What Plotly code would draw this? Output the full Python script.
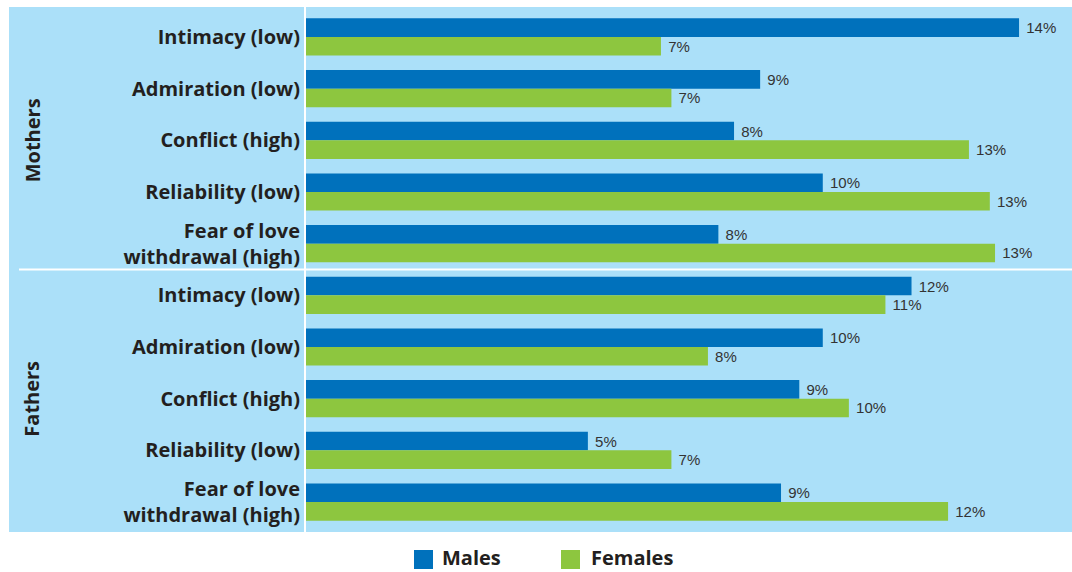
import plotly.graph_objects as go

# ---------------- data ----------------
groups = ["Mothers", "Fathers"]
categories = [
    "Intimacy (low)",
    "Admiration (low)",
    "Conflict (high)",
    "Reliability (low)",
    "Fear of love<br>withdrawal (high)",
]
series_names = ["Males", "Females"]

males_mothers = [13.66, 8.7, 8.2, 9.9, 7.9]
females_mothers = [6.8, 7.0, 12.7, 13.1, 13.2]
males_fathers = [11.6, 9.9, 9.45, 5.4, 9.1]
females_fathers = [11.1, 7.7, 10.4, 7.0, 12.3]

# ---------------- style ----------------
BG = "#abe0f9"
C_MALE = "#0071bc"
C_FEMALE = "#8dc63f"
TXT = "#231f20"
W, H = 1072, 572
L, R, T, B = 306, 0, 7, 40
PW, PH = W - L - R, H - T - B


def px_x(px):
    return (px - L) / PW


def px_y(py):
    return (H - B - py) / PH


males = males_mothers + males_fathers
females = females_mothers + females_fathers
n_cat = len(categories)
ypos = list(range(len(groups) * n_cat))
ticktext = categories * len(groups)


def labels(vals):
    return ["\u00a0" + f"{v:.0f}%" for v in vals]


fig = go.Figure()
for name, vals, col in [(series_names[0], males, C_MALE), (series_names[1], females, C_FEMALE)]:
    fig.add_trace(go.Bar(
        y=ypos, x=vals, name=name, orientation="h",
        marker=dict(color=col, line=dict(width=0)),
        text=labels(vals), textposition="outside",
        textfont=dict(family="Liberation Sans", size=15, color="#333333"),
        cliponaxis=False, showlegend=False,
    ))

shapes = [
    # full panel background
    dict(type="rect", xref="paper", yref="paper", x0=px_x(9), x1=1, y0=0, y1=1,
         fillcolor=BG, line=dict(width=0), layer="below"),
    # group separator
    dict(type="line", xref="paper", yref="y", x0=px_x(19), x1=1, y0=n_cat - 0.5, y1=n_cat - 0.5,
         line=dict(color="white", width=2)),
]

annotations = []
for gi, g in enumerate(groups):
    annotations.append(dict(
        text=g, xref="paper", yref="y", x=px_x(32), y=gi * n_cat + (n_cat - 1) / 2,
        xanchor="center", yanchor="middle", textangle=-90, showarrow=False,
        font=dict(family="Open Sans", size=20, color=TXT, weight="bold"),
    ))

# manual legend
leg_items = [(series_names[0], C_MALE, 414, 441), (series_names[1], C_FEMALE, 561, 590)]
for name, col, sx, tx in leg_items:
    shapes.append(dict(type="rect", xref="paper", yref="paper",
                       x0=px_x(sx), x1=px_x(sx + 19), y0=px_y(569), y1=px_y(550),
                       fillcolor=col, line=dict(width=0)))
    annotations.append(dict(
        text=name, xref="paper", yref="paper", x=px_x(tx), y=px_y(557),
        xanchor="left", yanchor="middle", showarrow=False, borderpad=0,
        font=dict(family="Open Sans", size=20, color=TXT, weight="bold"),
    ))

fig.update_layout(
    width=W, height=H, autosize=False,
    margin=dict(l=L, r=R, t=T, b=B, pad=0),
    paper_bgcolor="white", plot_bgcolor=BG,
    barmode="group", bargap=0.28, bargroupgap=0,
    shapes=shapes, annotations=annotations,
    showlegend=False,
    xaxis=dict(range=[0, PW / 52.2], visible=False, showgrid=False, zeroline=False),
    yaxis=dict(
        range=[len(ypos) - 1 + 0.58, -0.58],
        tickmode="array", tickvals=ypos, ticktext=ticktext,
        tickfont=dict(family="Open Sans", size=20, color=TXT, weight="bold"),
        showline=True, linecolor="white", linewidth=2,
        showgrid=False, zeroline=False, ticks="",
    ),
)

fig.write_html("out.html", config={"displayModeBar": False},
               post_script="document.body.style.margin='0';")
